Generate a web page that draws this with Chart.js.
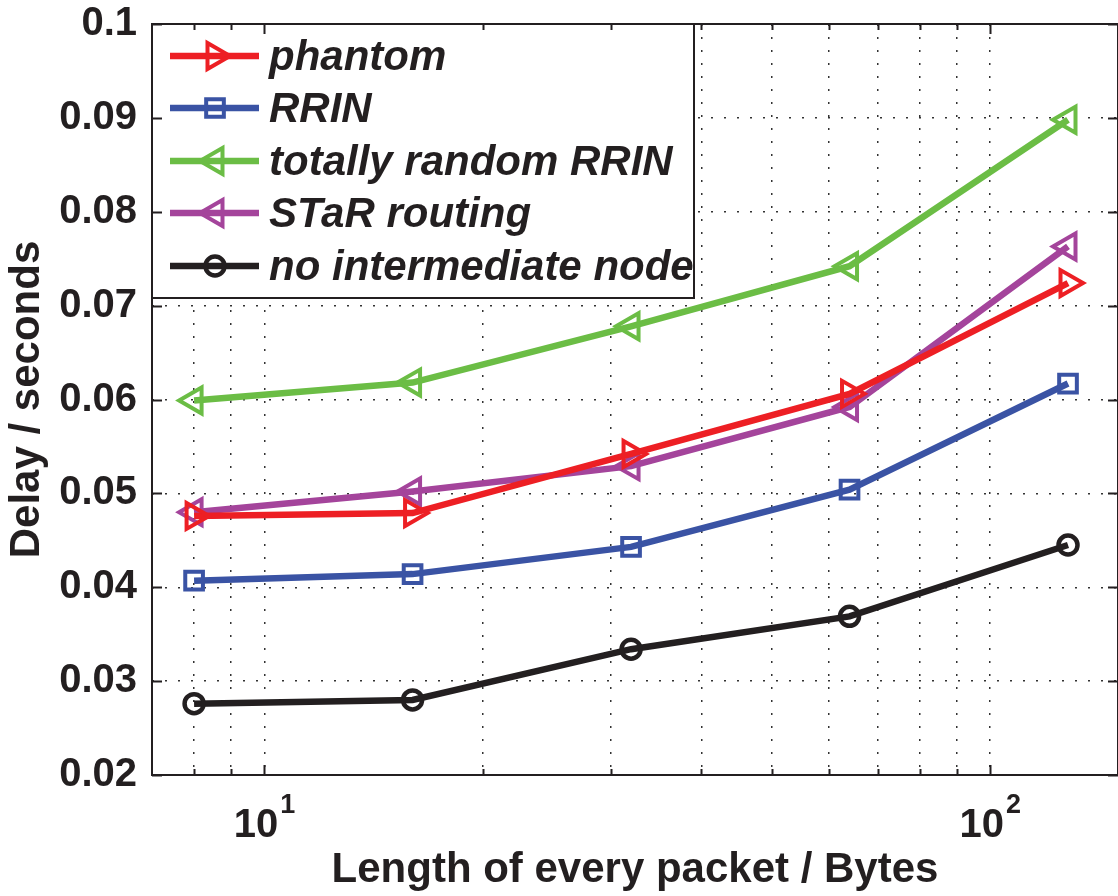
<!DOCTYPE html>
<html>
<head>
<meta charset="utf-8">
<title>Delay vs packet length</title>
<script src="https://cdn.jsdelivr.net/npm/chart.js@4/dist/chart.umd.min.js"></script>
<style>
  html, body { margin: 0; padding: 0; background: #fff; }
  #wrap { width: 1118px; height: 896px; }
</style>
</head>
<body>
<div id="wrap"><canvas id="chart" width="1118" height="896"></canvas></div>
<script>
// packet lengths (bytes) and measured delays (seconds)
const packetLengths = [8, 16, 32, 64, 128]
const phantom = [0.0476, 0.0479, 0.0542, 0.0606, 0.0724]
const rrin = [0.0407, 0.0414, 0.0443, 0.0504, 0.0617]
const randomRrin = [0.0599, 0.0618, 0.0678, 0.0742, 0.0898]
const starRouting = [0.0480, 0.0502, 0.0529, 0.0592, 0.0763]
const noIntermediate = [0.0276, 0.0280, 0.0334, 0.0369, 0.0445]

const seriesNames = ['phantom', 'RRIN', 'totally random RRIN', 'STaR routing', 'no intermediate node']
const yTicks = [0.02, 0.03, 0.04, 0.05, 0.06, 0.07, 0.08, 0.09, 0.1]
const xGrid = [8, 9, 10, 20, 30, 40, 50, 60, 70, 80, 90, 100]
const xLabels = [[10, '1'], [100, '2']]

const INK = '#231f20'
const FONT = '"Liberation Sans", Arial, sans-serif'

const styles = [
    { color: '#ed1f24', pointStyle: 'triangle', rotation: 90, radius: 15, bw: 4 },
    { color: '#3a53a4', pointStyle: 'rect', rotation: 0, radius: 12.5, bw: 4 },
    { color: '#6bbd45', pointStyle: 'triangle', rotation: -90, radius: 15, bw: 4 },
    { color: '#a4449b', pointStyle: 'triangle', rotation: -90, radius: 15, bw: 4 },
    { color: INK, pointStyle: 'circle', rotation: 0, radius: 9.5, bw: 4.5 },
]
const values = [phantom, rrin, randomRrin, starRouting, noIntermediate]

const datasets = values.map((vals, i) => ({
    label: seriesNames[i],
    data: packetLengths.map((x, j) => ({ x, y: vals[j] })),
    borderColor: styles[i].color,
    borderWidth: 6.5,
    pointStyle: styles[i].pointStyle,
    pointRotation: styles[i].rotation,
    pointRadius: styles[i].radius,
    pointBorderWidth: styles[i].bw,
    pointBorderColor: styles[i].color,
    pointBackgroundColor: 'rgba(0,0,0,0)',
    tension: 0,
    clip: false,
}))

// axes box with inward ticks on all four sides, plus x tick labels with exponents
const framePlugin = {
    id: 'frame',
    afterDraw(chart) {
        const { ctx, chartArea: a, scales: { x, y } } = chart
        ctx.save()
        ctx.strokeStyle = INK
        ctx.lineWidth = 2
        ctx.strokeRect(a.left, a.top, a.right - a.left, a.bottom - a.top)
        ctx.beginPath()
        yTicks.forEach(v => {
            const py = Math.round(y.getPixelForValue(v)) + 0.5
            ctx.moveTo(a.left, py); ctx.lineTo(a.left + 10, py)
            ctx.moveTo(a.right, py); ctx.lineTo(a.right - 10, py)
        })
        xGrid.forEach(v => {
            const px = Math.round(x.getPixelForValue(v)) + 0.5
            const len = (v === 10 || v === 100) ? 10 : 6
            ctx.moveTo(px, a.bottom); ctx.lineTo(px, a.bottom - len)
            ctx.moveTo(px, a.top); ctx.lineTo(px, a.top + len)
        })
        ctx.stroke()

        ctx.fillStyle = INK
        ctx.textBaseline = 'alphabetic'
        xLabels.forEach(([v, exp]) => {
            ctx.font = 'bold 40px ' + FONT
            const wBase = ctx.measureText('10').width
            ctx.font = 'bold 27px ' + FONT
            const wExp = ctx.measureText(exp).width
            const px = x.getPixelForValue(v)
            const left = px - (wBase + wExp + 2) / 2
            ctx.font = 'bold 40px ' + FONT
            ctx.fillText('10', left, 837)
            ctx.font = 'bold 27px ' + FONT
            ctx.fillText(exp, left + wBase + 2, 813)
        })
        ctx.restore()
    }
}

// boxed legend in the upper-left corner of the plot
const legendPlugin = {
    id: 'boxLegend',
    afterDatasetsDraw(chart) {
        const { ctx, chartArea: a } = chart
        const box = { left: a.left, top: a.top, right: 694, bottom: 298 }
        ctx.save()
        ctx.fillStyle = '#fff'
        ctx.fillRect(box.left, box.top, box.right - box.left, box.bottom - box.top)
        ctx.strokeStyle = INK
        ctx.lineWidth = 2
        ctx.strokeRect(box.left, box.top, box.right - box.left, box.bottom - box.top)
        const rowY = [56, 108, 161, 213, 266]
        seriesNames.forEach((name, i) => {
            const s = styles[i]
            const cy = rowY[i]
            ctx.strokeStyle = s.color
            ctx.lineWidth = 6.5
            ctx.beginPath()
            ctx.moveTo(170, cy); ctx.lineTo(259, cy)
            ctx.stroke()
            ctx.fillStyle = 'rgba(0,0,0,0)'
            ctx.lineWidth = s.bw
            Chart.helpers.drawPoint(ctx, {
                pointStyle: s.pointStyle, rotation: s.rotation, radius: s.radius, borderWidth: s.bw
            }, 215, cy)
            ctx.fillStyle = INK
            ctx.font = 'italic bold 42px ' + FONT
            ctx.textBaseline = 'middle'
            ctx.fillText(name, 269, cy + 2)
        })
        ctx.restore()
    }
}

new Chart(document.getElementById('chart'), {
    type: 'line',
    data: { datasets },
    options: {
        responsive: false,
        animation: false,
        layout: { autoPadding: false, padding: { top: 24, right: 0, left: 0, bottom: 0 } },
        plugins: { legend: { display: false }, tooltip: { enabled: false } },
        scales: {
            x: {
                type: 'logarithmic',
                min: 7,
                max: 150,
                afterBuildTicks: (scale) => { scale.ticks = xGrid.map(v => ({ value: v })) },
                afterFit: (scale) => {
                    scale.height = 121
                    scale.paddingLeft = 0
                    scale.paddingRight = 0
                },
                ticks: { display: false },
                grid: { color: '#333', lineWidth: 1.5, drawTicks: false },
                border: { display: false, dash: [2, 11] },
                title: {
                    display: true,
                    text: 'Length of every packet / Bytes',
                    color: INK,
                    font: { family: FONT, size: 42, weight: 'bold' },
                    padding: { top: 5, bottom: 0 },
                },
            },
            y: {
                min: 0.02,
                max: 0.1,
                afterBuildTicks: (scale) => { scale.ticks = yTicks.map(v => ({ value: v })) },
                afterFit: (scale) => {
                    scale.width = 152
                    scale.paddingTop = 0
                    scale.paddingBottom = 0
                },
                ticks: {
                    color: INK,
                    padding: 15,
                    font: { family: FONT, size: 40, weight: 'bold' },
                    callback: (v) => String(+v.toFixed(2)),
                },
                grid: { color: '#333', lineWidth: 1.5, drawTicks: false },
                border: { display: false, dash: [2, 11] },
                title: {
                    display: true,
                    text: 'Delay / seconds',
                    color: INK,
                    font: { family: FONT, size: 42, weight: 'bold' },
                    padding: { top: 2, bottom: 0 },
                },
            },
        },
    },
    plugins: [legendPlugin, framePlugin],
})
</script>
</body>
</html>
